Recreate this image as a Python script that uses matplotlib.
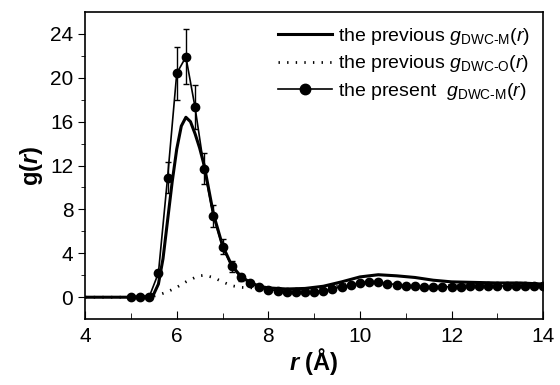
import matplotlib
matplotlib.use("Agg")
from matplotlib import pyplot as plt
from matplotlib.lines import Line2D
import numpy as np

# previous g_DWC-M(r), solid thick line
r_prev = [4.0, 5.0, 5.4, 5.5, 5.6, 5.7, 5.8, 5.9, 6.0, 6.1, 6.2, 6.3, 6.4, 6.5, 6.6,
          6.8, 7.0, 7.2, 7.4, 7.6, 7.8, 8.0, 8.4, 8.8, 9.2, 9.6, 10.0, 10.4, 10.8,
          11.2, 11.6, 12.0, 12.5, 13.0, 13.5, 14.0]
g_prev_m = [0.0, 0.0, 0.05, 0.3, 1.2, 3.5, 7.0, 10.5, 13.5, 15.6, 16.4, 16.0, 14.9, 13.6, 12.0,
            7.6, 4.7, 2.9, 1.9, 1.35, 1.0, 0.85, 0.75, 0.8, 1.0, 1.4, 1.85, 2.05, 1.95,
            1.8, 1.55, 1.4, 1.35, 1.3, 1.3, 1.2]
# previous g_DWC-O(r), dotted line
g_prev_o = [0.0, 0.0, 0.05, 0.1, 0.2, 0.35, 0.5, 0.7, 0.9, 1.15, 1.4, 1.6, 1.8, 1.95, 2.0,
            1.8, 1.4, 1.05, 0.9, 0.85, 0.9, 0.85, 0.7, 0.7, 0.85, 1.1, 1.35, 1.35, 1.2,
            1.1, 1.05, 1.05, 1.05, 1.05, 1.1, 1.1]

# present g_DWC-M(r), points with error bars
r_now = [5.0, 5.2, 5.4, 5.6, 5.8, 6.0, 6.2, 6.4, 6.6, 6.8, 7.0, 7.2, 7.4, 7.6, 7.8,
         8.0, 8.2, 8.4, 8.6, 8.8, 9.0, 9.2, 9.4, 9.6, 9.8, 10.0, 10.2, 10.4, 10.6, 10.8,
         11.0, 11.2, 11.4, 11.6, 11.8, 12.0, 12.2, 12.4, 12.6, 12.8, 13.0, 13.2, 13.4,
         13.6, 13.8, 14.0]
g_now = [0.0, 0.0, 0.05, 2.2, 10.9, 20.4, 21.9, 17.3, 11.7, 7.4, 4.6, 2.8, 1.8, 1.3, 0.9,
         0.7, 0.6, 0.5, 0.45, 0.45, 0.5, 0.6, 0.75, 0.95, 1.15, 1.3, 1.4, 1.35, 1.25, 1.15,
         1.05, 1.0, 0.95, 0.95, 0.95, 0.95, 0.95, 1.0, 1.0, 1.0, 1.0, 1.05, 1.05,
         1.05, 1.05, 1.05]
g_err = [0.0, 0.0, 0.0, 0.3, 1.4, 2.4, 2.5, 2.0, 1.4, 1.0, 0.7, 0.5, 0.3, 0.2, 0.15,
         0.1, 0.1, 0.1, 0.1, 0.1, 0.1, 0.1, 0.1, 0.1, 0.1, 0.1, 0.1, 0.1, 0.1, 0.1,
         0.1, 0.1, 0.1, 0.1, 0.1, 0.1, 0.1, 0.1, 0.1, 0.1, 0.1, 0.1, 0.1,
         0.1, 0.1, 0.1]

plt.rcParams['font.family'] = ['Liberation Sans', 'DejaVu Sans']
plt.rcParams['mathtext.fontset'] = 'custom'
plt.rcParams['mathtext.rm'] = 'Liberation Sans'
plt.rcParams['mathtext.it'] = 'Liberation Sans:italic'
plt.rcParams['mathtext.bf'] = 'Liberation Sans:bold'
plt.rcParams['mathtext.bfit'] = 'Liberation Sans:italic:bold'

fig = plt.figure(figsize=(5.6, 3.85), dpi=100)
ax = fig.add_axes([0.152, 0.171, 0.818, 0.798])

dots = (0, (0.5, 2.6))
ax.plot(r_prev, g_prev_m, color='black', lw=2.2)
ax.plot(r_prev, g_prev_o, color='black', lw=2.0, linestyle=dots)
ax.errorbar(r_now, g_now, yerr=g_err, color='black', lw=1.2, marker='o', ms=6,
            elinewidth=1.0, capsize=2.5, capthick=1.0)

ax.set_xlim(4, 14)
ax.set_ylim(-2, 26)
ax.set_xticks([4, 6, 8, 10, 12, 14])
ax.set_xticks([5, 7, 9, 11, 13], minor=True)
ax.set_yticks([0, 4, 8, 12, 16, 20, 24])
ax.set_yticks([2, 6, 10, 14, 18, 22], minor=True)
ax.tick_params(axis='x', which='both', direction='in', labelsize=15, pad=6)
ax.tick_params(axis='x', which='major', length=6)
ax.tick_params(axis='x', which='minor', length=4)
ax.tick_params(axis='y', which='both', direction='out', labelsize=15)
ax.tick_params(axis='y', which='major', length=5)
ax.tick_params(axis='y', which='minor', length=3)
for s in ax.spines.values():
    s.set_linewidth(1.2)

ax.set_xlabel(r'$\mathbfit{r}\ \mathbf{(Å)}$', fontsize=17, labelpad=0)
ax.set_ylabel(r'$\mathbf{g(}\mathbfit{r}\mathbf{)}$', fontsize=17, labelpad=4)

handles = [
    Line2D([], [], color='black', lw=2.2),
    Line2D([], [], color='black', lw=2.0, linestyle=dots),
    Line2D([], [], color='black', lw=1.2, marker='o', ms=7.5),
]
labels = [
    r'the previous $g_{\text{DWC-M}}(r)$',
    r'the previous $g_{\text{DWC-O}}(r)$',
    r'the present  $g_{\text{DWC-M}}(r)$',
]
ax.legend(handles, labels, loc='upper right', frameon=False, fontsize=14,
          handlelength=2.8, handletextpad=0.3, labelspacing=0.35, borderaxespad=0.3)

fig.savefig('out.png', dpi=100)
